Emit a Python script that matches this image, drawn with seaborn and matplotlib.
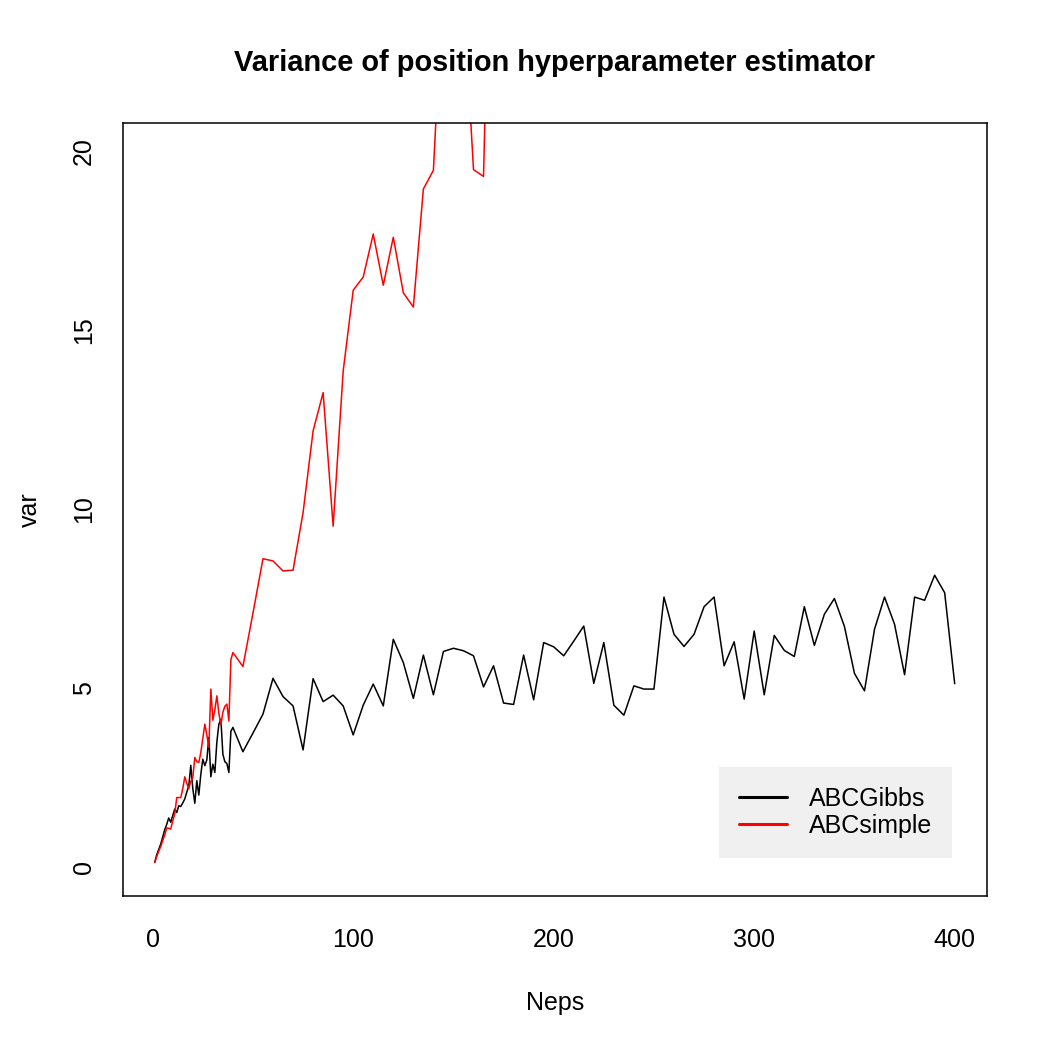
import numpy as np
import pandas as pd
import matplotlib
matplotlib.use("Agg")
import matplotlib.pyplot as plt
import seaborn as sns

# ---- data ----
neps_dense = list(range(1, 41))
neps_coarse = list(range(45, 401, 5))

gibbs_dense = [0.14, 0.35, 0.5, 0.65, 0.85, 1.05, 1.2, 1.38, 1.26, 1.45,
               1.63, 1.53, 1.72, 1.7, 1.8, 1.91, 2.1, 2.28, 2.85, 2.2,
               1.79, 2.42, 2.02, 2.6, 3.02, 2.84, 3.0, 3.63, 2.53, 2.88,
               2.65, 3.5, 4.0, 4.14, 3.16, 2.95, 2.9, 2.65, 3.8, 3.91]
gibbs_coarse = [3.23, 3.75, 4.28, 5.28, 4.77, 4.51, 3.28, 5.27, 4.63, 4.81,
                4.51, 3.70, 4.53, 5.12, 4.51, 6.37, 5.72, 4.72, 5.93, 4.82,
                6.03, 6.12, 6.05, 5.91, 5.04, 5.63, 4.59, 4.55, 5.93, 4.68,
                6.28, 6.16, 5.91, 6.32, 6.74, 5.14, 6.28, 4.53, 4.25, 5.07,
                4.98, 4.98, 7.55, 6.51, 6.17, 6.51, 7.28, 7.55, 5.63, 6.30,
                4.70, 6.60, 4.82, 6.48, 6.06, 5.89, 7.28, 6.20, 7.07, 7.51,
                6.73, 5.42, 4.93, 6.65, 7.55, 6.79, 5.38, 7.55, 7.46, 8.16,
                7.67, 5.13]

simple_dense = [0.14, 0.3, 0.45, 0.58, 0.75, 0.9, 1.1, 1.09, 1.07, 1.3,
                1.49, 1.95, 1.95, 1.95, 2.2, 2.53, 2.35, 2.2, 2.4, 2.51,
                3.07, 2.95, 2.93, 3.21, 3.6, 4.0, 3.7, 3.35, 4.98, 4.11,
                4.4, 4.79, 4.3, 3.98, 4.33, 4.5, 4.56, 4.09, 5.8, 6.0]
simple_coarse_x = list(range(45, 171, 5))
simple_coarse = [5.61, 7.1, 8.62, 8.56, 8.28, 8.30, 9.91, 12.19, 13.26, 9.53,
                 13.86, 16.12, 16.49, 17.69, 16.26, 17.60, 16.05, 15.65, 18.95, 19.47,
                 25.0, 26.0, 24.4, 19.49, 19.30, 31.0]

title = "Variance of position hyperparameter estimator"
xlabel = "Neps"
ylabel = "var"
series_names = ["ABCGibbs", "ABCsimple"]

df_g = pd.DataFrame({"Neps": neps_dense + neps_coarse,
                     "var": gibbs_dense + gibbs_coarse,
                     "method": series_names[0]})
df_s = pd.DataFrame({"Neps": neps_dense + simple_coarse_x,
                     "var": simple_dense + simple_coarse,
                     "method": series_names[1]})
df = pd.concat([df_g, df_s], ignore_index=True)

# ---- style ----
sns.set_style("white")
plt.rcParams["font.family"] = ["Liberation Sans", "DejaVu Sans"]
plt.rcParams["text.color"] = "black"

W, H = 1050, 1050
fig = plt.figure(figsize=(10.5, 10.5), dpi=100)
L, R, T, B = 122.7, 986.7, 122.7, 896.0
ax = fig.add_axes([L / W, 1 - B / H, (R - L) / W, (B - T) / H])

sns.lineplot(data=df, x="Neps", y="var", hue="method",
             palette={"ABCGibbs": "black", "ABCsimple": "red"},
             estimator=None, sort=False, linewidth=1.1, ax=ax, legend=False)

ax.set_xlim(-14.96, 415.96)
ax.set_ylim(-0.8, 20.8)
ax.set_xticks([0, 100, 200, 300, 400])
ax.set_yticks([0, 5, 10, 15, 20])
ax.set_yticklabels(["0", "5", "10", "15", "20"], rotation=90, va="center")

for s in ax.spines.values():
    s.set_color("black")
    s.set_linewidth(1.1)
    s.set_visible(True)

ax.tick_params(axis="both", which="major", direction="out", length=10.8,
               width=1.1, color="black", labelsize=18, labelcolor="black")
ax.tick_params(axis="x", pad=12)
ax.tick_params(axis="y", pad=8.5)

ax.set_xlabel(xlabel, fontsize=18, color="black")
ax.set_ylabel(ylabel, fontsize=18, color="black")
ax.xaxis.set_label_coords(0.5, (B - 1003) / (B - T))
ax.xaxis.label.set_va("center")
ax.yaxis.set_label_coords((30 - L) / (R - L), 0.5)
ax.yaxis.label.set_va("center")

fig.text((L + R) / 2 / W, 1 - 63 / H, title, ha="center", va="center",
         fontsize=20.9, fontweight="bold", color="black")

from matplotlib.lines import Line2D
handles = [Line2D([], [], color="black", lw=2.2),
           Line2D([], [], color="red", lw=2.2)]
leg = ax.legend(handles, series_names, loc="lower left",
                bbox_to_anchor=((719 - L) / (R - L), (B - 858) / (B - T)),
                fontsize=18, frameon=True, fancybox=False, framealpha=1,
                facecolor="#f0f0f0", edgecolor="none", borderpad=0.8,
                handlelength=1.9, handletextpad=0.9, labelspacing=0.12,
                borderaxespad=0)
for t in leg.get_texts():
    t.set_color("black")

fig.savefig("out.png", dpi=100, facecolor="white")
